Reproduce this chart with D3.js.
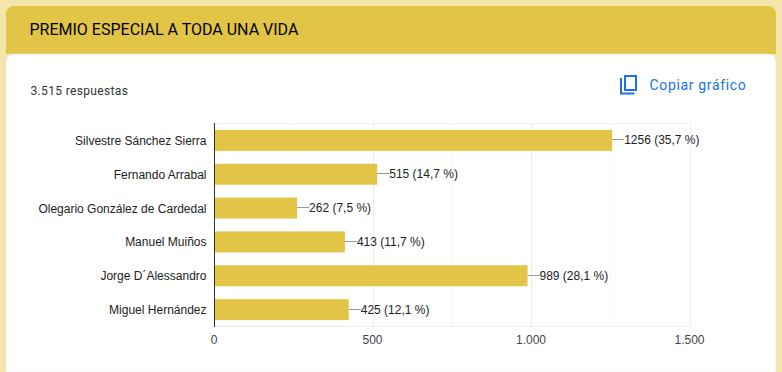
<!DOCTYPE html>
<html>
<head>
<meta charset="utf-8">
<title>Premio especial a toda una vida</title>
<style>
html, body { margin: 0; padding: 0; background: #f4e5ab; overflow: hidden; }
svg { display: block; }
</style>
</head>
<body>
<svg width="782" height="372"></svg>
<script src="https://d3js.org/d3.v7.min.js"></script>
<script>

var categories = ["Silvestre Sánchez Sierra", "Fernando Arrabal", "Olegario González de Cardedal", "Manuel Muiños", "Jorge D´Alessandro", "Miguel Hernández"];
var votes = [1256, 515, 262, 413, 989, 425];
var percents = ["35,7", "14,7", "7,5", "11,7", "28,1", "12,1"];
var majorTicks = [0, 500, 1000, 1500];
var minorTicks = [250, 750, 1250];
var tickLabels = ["0", "500", "1.000", "1.500"];

var yellow = "#e2c546";

var svg = d3.select("svg");

// header and card
svg.append("path")
    .attr("d", "M6,54V14a8,8 0 0 1 8,-8H768a8,8 0 0 1 8,8V54Z")
    .attr("fill", yellow);
svg.append("path")
    .attr("d", "M6,372V62a8,8 0 0 1 8,-8H768a8,8 0 0 1 8,8V372Z")
    .attr("fill", "#fff")
    .attr("stroke", "#e6e6e6")
    .attr("stroke-width", 0.6);

svg.append("text")
    .attr("x", 29.5).attr("y", 35)
    .attr("font-family", "Roboto")
    .attr("font-size", 16)
    .attr("fill", "#000")
    .text("PREMIO ESPECIAL A TODA UNA VIDA");

svg.append("text")
    .attr("x", 30.5).attr("y", 95)
    .attr("font-family", "Roboto")
    .attr("font-size", 12)
    .attr("letter-spacing", 0.35)
    .attr("fill", "#333")
    .text("3.515 respuestas");

// copy icon
var icon = svg.append("g")
    .attr("fill", "none")
    .attr("stroke", "#1a73e8")
    .attr("stroke-width", 2);
icon.append("path").attr("d", "M621,78V93.5H634.5");
icon.append("rect").attr("x", 625).attr("y", 76).attr("width", 11).attr("height", 14);

svg.append("text")
    .attr("x", 649.5).attr("y", 90)
    .attr("font-family", "Roboto")
    .attr("font-size", 14)
    .attr("letter-spacing", 0.65)
    .attr("fill", "#1a73e8")
    .text("Copiar gráfico");

var x = d3.scaleLinear().domain([0, 1500]).range([214, 689.5]);
var y = d3.scaleBand().domain(categories).range([123.5, 326.5]).paddingInner(0.38).paddingOuter(0.19);

var font = "Liberation Sans, Arial, sans-serif";

// grid
var grid = svg.append("g");
grid.selectAll(".minor")
    .data(minorTicks)
  .enter().append("line")
    .attr("x1", function(d) { return Math.round(x(d)) + 0.5; })
    .attr("x2", function(d) { return Math.round(x(d)) + 0.5; })
    .attr("y1", 123).attr("y2", 326)
    .attr("stroke", "#f6f6f6");
grid.selectAll(".major")
    .data(majorTicks.slice(1))
  .enter().append("line")
    .attr("x1", function(d) { return Math.round(x(d)) + 0.5; })
    .attr("x2", function(d) { return Math.round(x(d)) + 0.5; })
    .attr("y1", 123).attr("y2", 326)
    .attr("stroke", "#ececec");
grid.append("line")
    .attr("x1", 214).attr("x2", 691).attr("y1", 123.5).attr("y2", 123.5)
    .attr("stroke", "#f2f2f2");
grid.append("line")
    .attr("x1", 214).attr("x2", 691).attr("y1", 326.5).attr("y2", 326.5)
    .attr("stroke", "#eeeeee");

// bars
svg.append("g").selectAll("rect")
    .data(votes)
  .enter().append("rect")
    .attr("x", x(0))
    .attr("y", function(d, i) { return y(categories[i]); })
    .attr("width", function(d) { return x(d) - x(0); })
    .attr("height", y.bandwidth())
    .attr("fill", yellow);

// baseline
svg.append("line")
    .attr("x1", 214.5).attr("x2", 214.5).attr("y1", 123).attr("y2", 327)
    .attr("stroke", "#333");

// category labels
svg.append("g").selectAll("text")
    .data(categories)
  .enter().append("text")
    .attr("x", 206.5)
    .attr("y", function(d) { return y(d) + y.bandwidth() / 2 + 4.5; })
    .attr("text-anchor", "end")
    .attr("font-family", font)
    .attr("font-size", 12)
    .attr("fill", "#222")
    .text(function(d) { return d; });

// value annotations
var notes = svg.append("g");
notes.selectAll("line")
    .data(votes)
  .enter().append("line")
    .attr("x1", function(d) { return x(d); })
    .attr("x2", function(d) { return x(d) + 12; })
    .attr("y1", function(d, i) { return Math.round(y(categories[i]) + y.bandwidth() / 2) - 0.5; })
    .attr("y2", function(d, i) { return Math.round(y(categories[i]) + y.bandwidth() / 2) - 0.5; })
    .attr("stroke", "#999");
notes.selectAll("text")
    .data(votes)
  .enter().append("text")
    .attr("x", function(d) { return x(d) + 12; })
    .attr("y", function(d, i) { return y(categories[i]) + y.bandwidth() / 2 + 4; })
    .attr("font-family", font)
    .attr("font-size", 12)
    .attr("fill", "#222")
    .text(function(d, i) { return d + " (" + percents[i] + " %)"; });

// x axis labels
svg.append("g").selectAll("text")
    .data(majorTicks)
  .enter().append("text")
    .attr("x", function(d) { return x(d); })
    .attr("y", 344)
    .attr("text-anchor", "middle")
    .attr("font-family", font)
    .attr("font-size", 12)
    .attr("fill", "#444")
    .text(function(d, i) { return tickLabels[i]; });

</script>
</body>
</html>
